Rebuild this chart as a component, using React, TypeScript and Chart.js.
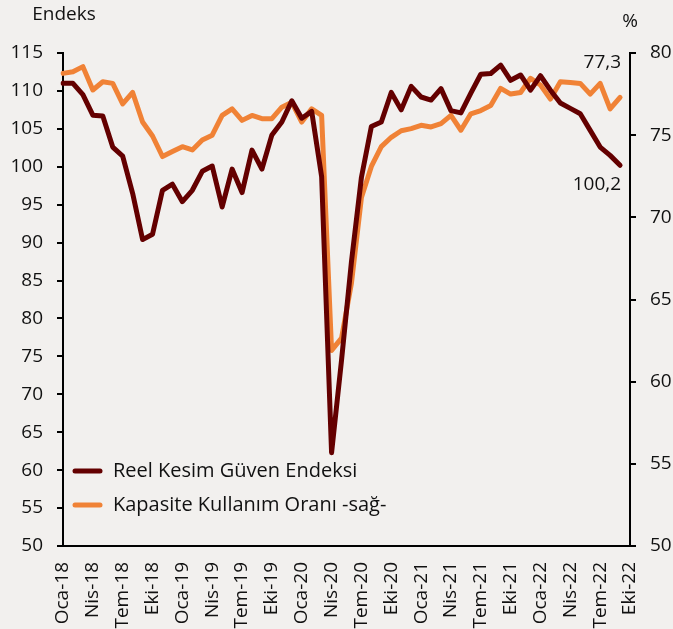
import React, { useEffect, useRef } from "react";
import { Chart, registerables } from "chart.js";

Chart.register(...registerables);

const monthLabels: string[] = [
  "Oca-18","Şub-18","Mar-18","Nis-18","May-18","Haz-18","Tem-18","Ağu-18","Eyl-18","Eki-18","Kas-18","Ara-18",
  "Oca-19","Şub-19","Mar-19","Nis-19","May-19","Haz-19","Tem-19","Ağu-19","Eyl-19","Eki-19","Kas-19","Ara-19",
  "Oca-20","Şub-20","Mar-20","Nis-20","May-20","Haz-20","Tem-20","Ağu-20","Eyl-20","Eki-20","Kas-20","Ara-20",
  "Oca-21","Şub-21","Mar-21","Nis-21","May-21","Haz-21","Tem-21","Ağu-21","Eyl-21","Eki-21","Kas-21","Ara-21",
  "Oca-22","Şub-22","Mar-22","Nis-22","May-22","Haz-22","Tem-22","Ağu-22","Eyl-22","Eki-22",
];

const reelKesim: number[] = [
  111.0, 111.0, 109.5, 106.8, 106.7, 102.6, 101.4, 96.5, 90.4, 91.1, 96.9, 97.7,
  95.4, 96.9, 99.4, 100.1, 94.7, 99.7, 96.6, 102.2, 99.7, 104.2, 105.9, 108.7,
  106.4, 107.3, 98.7, 62.3, 74.5, 87.5, 98.6, 105.3, 105.9, 109.8, 107.5, 110.6,
  109.2, 108.8, 110.3, 107.4, 107.1, 109.7, 112.2, 112.3, 113.4, 111.4, 112.1, 110.1,
  112.0, 110.1, 108.4, 107.7, 107.0, 104.8, 102.6, 101.5, 100.2,
];

const kapasite: number[] = [
  78.76, 78.86, 79.17, 77.75, 78.25, 78.15, 76.9, 77.6, 75.8, 74.95, 73.7, 74.0,
  74.3, 74.1, 74.7, 75.0, 76.2, 76.6, 75.9, 76.2, 76.0, 76.0, 76.7, 77.0,
  75.8, 76.6, 76.2, 61.9, 62.65, 66.0, 71.2, 73.1, 74.3, 74.87, 75.27, 75.4,
  75.6, 75.5, 75.7, 76.2, 75.3, 76.3, 76.5, 76.8, 77.85, 77.5, 77.6, 78.46,
  78.05, 77.2, 78.25, 78.2, 78.15, 77.5, 78.15, 76.6, 77.3,
];

const leftTicks = { min: 50, max: 115, step: 5 };
const rightTicks = { min: 50, max: 80, step: 5 };

const seriesNames = ["Reel Kesim Güven Endeksi", "Kapasite Kullanım Oranı -sağ-"];
const leftTitle = "Endeks";
const rightTitle = "%";
const lastRKLabel = "100,2";
const lastKKLabel = "77,3";

const DARK = "#640000";
const ORANGE = "#F08236";
const BG = "#F2F0EE";
const FONT = "'Open Sans', 'Noto Sans', sans-serif";

export default function App() {
  const canvasRef = useRef<HTMLCanvasElement | null>(null);

  useEffect(() => {
    if (!canvasRef.current) return;

    const overlay = {
      id: "overlay",
      beforeDraw(chart: any) {
        const ctx = chart.ctx;
        ctx.save();
        ctx.fillStyle = BG;
        ctx.fillRect(0, 0, chart.width, chart.height);
        ctx.restore();
      },
      afterDraw(chart: any) {
        const ctx = chart.ctx;
        const x = chart.scales.x;
        const yL = chart.scales.y;
        const yR = chart.scales.y1;
        ctx.save();
        ctx.fillStyle = "#111";
        ctx.font = `19px ${FONT}`;
        ctx.textBaseline = "middle";
        ctx.textAlign = "center";
        ctx.fillText(leftTitle, 64, 15);
        ctx.fillText(rightTitle, 630, 22);

        // end labels
        const li = reelKesim.length - 1;
        const px = x.getPixelForValue(li);
        ctx.textAlign = "right";
        ctx.fillText(lastKKLabel, px + 1, yR.getPixelForValue(kapasite[li]) - 35);
        ctx.fillText(lastRKLabel, px + 1, yL.getPixelForValue(reelKesim[li]) + 19);

        // legend
        const items = [
          { name: seriesNames[0], color: DARK, y: 471 },
          { name: seriesNames[1], color: ORANGE, y: 505 },
        ];
        ctx.font = `20px ${FONT}`;
        ctx.textAlign = "left";
        for (const it of items) {
          ctx.strokeStyle = it.color;
          ctx.lineWidth = 5;
          ctx.lineCap = "round";
          ctx.beginPath();
          ctx.moveTo(75, it.y);
          ctx.lineTo(100, it.y);
          ctx.stroke();
          ctx.fillStyle = "#111";
          ctx.fillText(it.name, 113, it.y);
        }
        ctx.restore();
      },
    };

    const chart = new Chart(canvasRef.current, {
      type: "line",
      data: {
        labels: monthLabels,
        datasets: [
          {
            label: seriesNames[0],
            data: reelKesim,
            borderColor: DARK,
            backgroundColor: DARK,
            borderWidth: 5,
            pointRadius: 0,
            tension: 0,
            borderJoinStyle: "round",
            borderCapStyle: "round",
            yAxisID: "y",
          },
          {
            label: seriesNames[1],
            data: kapasite,
            borderColor: ORANGE,
            backgroundColor: ORANGE,
            borderWidth: 5,
            pointRadius: 0,
            tension: 0,
            borderJoinStyle: "round",
            borderCapStyle: "round",
            yAxisID: "y1",
          },
        ],
      },
      options: {
        animation: false,
        responsive: true,
        maintainAspectRatio: false,
        layout: { padding: { top: 53, left: 0, right: 0, bottom: 0 } },
        plugins: {
          legend: { display: false },
          tooltip: { enabled: false },
        },
        scales: {
          x: {
            type: "category",
            offset: false,
            grid: { display: false },
            border: { display: true, color: "#000", width: 2 },
            ticks: {
              autoSkip: false,
              minRotation: 90,
              maxRotation: 90,
              padding: 8,
              color: "#111",
              font: { family: FONT, size: 19 },
              callback: (_v: any, i: number) => (i % 3 === 0 ? monthLabels[i] : ""),
            },
            afterFit: (s: any) => { s.height = 83; },
          },
          y: {
            position: "left",
            min: leftTicks.min,
            max: leftTicks.max,
            grid: { display: true, drawOnChartArea: false, drawTicks: true, tickLength: 6, color: "#000", lineWidth: 2 },
            border: { display: true, color: "#000", width: 2 },
            ticks: { stepSize: leftTicks.step, padding: 14, color: "#111", font: { family: FONT, size: 19 } },
            afterFit: (s: any) => { s.width = 63; },
          },
          y1: {
            position: "right",
            min: rightTicks.min,
            max: rightTicks.max,
            grid: { display: true, drawOnChartArea: false, drawTicks: true, tickLength: 6, color: "#000", lineWidth: 2 },
            border: { display: true, color: "#000", width: 2 },
            ticks: { stepSize: rightTicks.step, padding: 14, color: "#111", font: { family: FONT, size: 19 } },
            afterFit: (s: any) => { s.width = 43; },
          },
        },
      },
      plugins: [overlay],
    } as any);

    return () => chart.destroy();
  }, []);

  return (
    <div style={{ position: "absolute", left: 0, top: 0, width: 673, height: 629, background: BG }}>
      <canvas ref={canvasRef} />
    </div>
  );
}
